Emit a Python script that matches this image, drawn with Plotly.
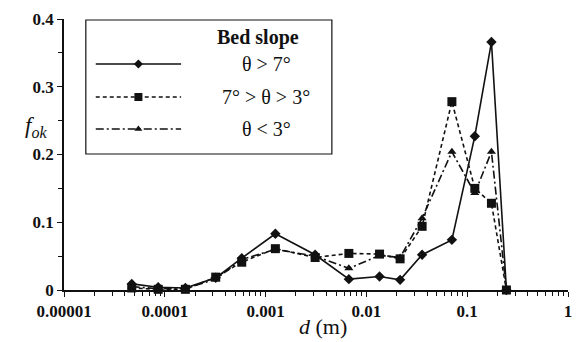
import plotly.graph_objects as go

# Data
d_m = [4.7e-5, 8.6e-5, 1.6e-4, 3.2e-4, 5.8e-4, 1.25e-3, 3.1e-3, 6.7e-3,
       0.0135, 0.0216, 0.0357, 0.0705, 0.119, 0.174, 0.245]
f_steep = [0.009, 0.004, 0.003, 0.018, 0.047, 0.083, 0.052, 0.016,
           0.020, 0.015, 0.052, 0.074, 0.227, 0.366, 0.0]
f_mid = [0.003, 0.001, 0.001, 0.019, 0.041, 0.061, 0.048, 0.054,
         0.053, 0.046, 0.094, 0.278, 0.150, 0.128, 0.0]
f_flat = [0.005, 0.002, 0.002, 0.016, 0.045, 0.060, 0.050, 0.032,
          0.051, 0.048, 0.106, 0.204, 0.143, 0.204, 0.0]

series_names = ["θ > 7°", "7° > θ > 3°", "θ < 3°"]
legend_title = "Bed slope"
x_tickvals = [1e-5, 1e-4, 1e-3, 1e-2, 1e-1, 1]
x_ticktext = ["0.00001", "0.0001", "0.001", "0.01", "0.1", "1"]
y_tickvals = [0, 0.1, 0.2, 0.3, 0.4]
y_ticktext = ["0", "0.1", "0.2", "0.3", "0.4"]

INK = "#111111"
FONT = "Liberation Serif"

styles = [
    dict(dash="solid", symbol="diamond", size=8),
    dict(dash="4px,3px", symbol="square", size=9),
    dict(dash="8px,3px,2px,3px", symbol="triangle-up", size=8),
]

fig = go.Figure()
for ys, name, st in zip([f_steep, f_mid, f_flat], series_names, styles):
    fig.add_trace(go.Scatter(
        x=d_m, y=ys, mode="lines+markers", name=name, showlegend=False,
        line=dict(color=INK, width=1.6, dash=st["dash"]),
        marker=dict(symbol=st["symbol"], size=st["size"], color=INK),
        cliponaxis=False,
    ))

# Manual legend on an overlay axis in pixel-like units
L_LEFT, L_RIGHT, L_TOP, L_BOT = 86, 334, 20, 154
row_y = [64, 97, 129]
for yy, name, st in zip(row_y, series_names, styles):
    fig.add_trace(go.Scatter(
        x=[96, 139, 182], y=[yy, yy, yy], mode="lines", xaxis="x2", yaxis="y2",
        showlegend=False, hoverinfo="skip",
        line=dict(color=INK, width=1.3, dash=st["dash"]),
    ))
    fig.add_trace(go.Scatter(
        x=[139], y=[yy], mode="markers", xaxis="x2", yaxis="y2",
        showlegend=False, hoverinfo="skip",
        marker=dict(symbol=st["symbol"], size=st["size"] - 1, color=INK),
    ))
    fig.add_annotation(x=268, y=yy, xref="x2", yref="y2", text=name,
                       showarrow=False, font=dict(family=FONT, size=20, color=INK))
fig.add_annotation(x=260, y=37, xref="x2", yref="y2", text="<b>" + legend_title + "</b>",
                   showarrow=False, font=dict(family=FONT, size=20, color=INK))
fig.add_shape(type="rect", xref="x2", yref="y2", x0=L_LEFT, x1=L_RIGHT,
              y0=L_TOP, y1=L_BOT, line=dict(color=INK, width=1.2))

fig.update_layout(
    width=579, height=342,
    margin=dict(l=64, r=7, t=19, b=52),
    paper_bgcolor="white", plot_bgcolor="white",
    font=dict(family=FONT, color=INK),
    xaxis=dict(
        type="log", range=[-5, 0], tickvals=x_tickvals, ticktext=x_ticktext,
        showgrid=False, zeroline=False, showline=True, linecolor=INK, linewidth=1.5,
        ticks="outside", ticklen=5, tickwidth=1.2, tickcolor=INK,
        tickfont=dict(family=FONT, size=17, color=INK, weight="bold"),
        minor=dict(ticks="outside", ticklen=4, tickwidth=1, tickcolor=INK,
                   dtick="D1", showgrid=False),
    ),
    yaxis=dict(
        range=[0, 0.4], tickvals=y_tickvals, ticktext=y_ticktext,
        showgrid=False, zeroline=False, showline=True, linecolor=INK, linewidth=1.5,
        ticks="outside", ticklen=5, tickwidth=1.2, tickcolor=INK,
        tickfont=dict(family=FONT, size=17, color=INK, weight="bold"),
        minor=dict(ticks="outside", ticklen=4, tickwidth=1, tickcolor=INK,
                   dtick=0.05, showgrid=False),
    ),
    xaxis2=dict(overlaying="x", range=[64, 572], visible=False, fixedrange=True),
    yaxis2=dict(overlaying="y", range=[290, 19], visible=False, fixedrange=True),
)

fig.add_annotation(xref="paper", yref="paper", x=-0.081, y=0.6, text="<i>f<sub>ok</sub></i>",
                   showarrow=False, font=dict(family=FONT, size=23, color=INK))
fig.add_annotation(xref="paper", yref="paper", x=0.514, y=-0.1365, yanchor="middle",
                   text="<i>d</i> (m)", showarrow=False,
                   font=dict(family=FONT, size=22, color=INK))

fig.write_html("out.html")
